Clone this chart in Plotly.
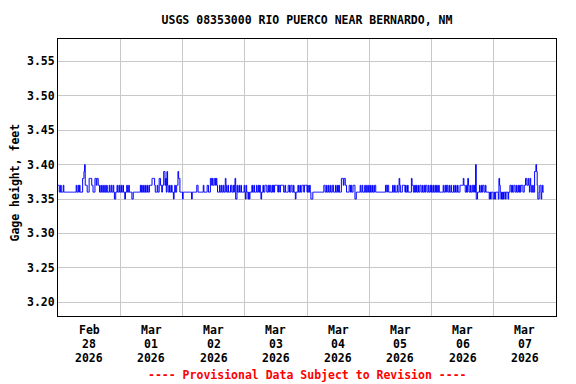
import plotly.graph_objects as go
import pandas as pd

# Gage height codes, one char per 15-minute reading (groups of 8 = 2 hours)
# 5=3.35, 6=3.36, 7=3.37, 8=3.38, 9=3.39, 0=3.40
code_values = {"5": 3.35, "6": 3.36, "7": 3.37, "8": 3.38, "9": 3.39, "0": 3.40}

day_starts = ["2026-02-28", "2026-03-01", "2026-03-02", "2026-03-03",
              "2026-03-04", "2026-03-05", "2026-03-06", "2026-03-07"]

day_codes = [
    "77667666 76666666 66666666 66667667 67666688 90777666 88887766 68878877 66766766 76676667 66766765 56676676",
    "67667665 66766766 66556666 66666667 67667667 66766777 78888766 67668877 67799786 97667667 66567667 79886666",
    "56666666 66666656 66666677 66666666 76666677 66688787 78878766 67667667 66876676 66776676 78557667 66766667",
    "65766565 66676676 66766767 65667667 77667677 66767677 77767767 77776676 66677667 76676656 66766766 77767777",
    "67667655 56666666 66666666 66776676 67667667 76667667 67666888 78877666 67767667 77556666 66766766 67667667",
    "66766766 77666666 66666666 67767766 66667667 66676687 66677776 76676666 68776676 76676677 66766767 76676676",
    "76676676 76676666 66766767 76676676 66766766 76667777 78776676 87667667 76760556 66766767 76676666 65656665",
    "56566665 87656565 66566656 67767667 76676676 76777667 78877876 87667669 90975567 756766",
]

tick_positions = ["2026-02-28 12:00", "2026-03-01 12:00", "2026-03-02 12:00", "2026-03-03 12:00",
                  "2026-03-04 12:00", "2026-03-05 12:00", "2026-03-06 12:00", "2026-03-07 12:00"]
tick_months = ["Feb", "Mar", "Mar", "Mar", "Mar", "Mar", "Mar", "Mar"]
tick_days = ["28", "01", "02", "03", "04", "05", "06", "07"]
tick_years = ["2026"] * 8
grid_positions = ["2026-03-01", "2026-03-02", "2026-03-03", "2026-03-04",
                  "2026-03-05", "2026-03-06", "2026-03-07"]
y_ticks = [3.20, 3.25, 3.30, 3.35, 3.40, 3.45, 3.50, 3.55]

times, values = [], []
for start, codes in zip(day_starts, day_codes):
    t0 = pd.Timestamp(start)
    for j, c in enumerate(codes.replace(" ", "")):
        times.append(t0 + pd.Timedelta(minutes=15 * j))
        values.append(code_values[c])

FONT = "DejaVu Sans Mono"
# page body adds an 8px margin; the figure is sized so the picture matches 576x384
W, H = 568, 376
PL, PT, PR, PB = 50, 31, 20, 68   # plot area in figure pixels
PW, PH = W - PL - PR, H - PT - PB


def py(ypix):  # reference pixel row -> paper y
    return (PT + PH - (ypix - 8)) / PH


def px(xpix):  # reference pixel column -> paper x
    return ((xpix - 8) - PL) / PW


fig = go.Figure()
fig.add_trace(go.Scatter(x=times, y=values, mode="lines", line=dict(color="#0000FF", width=1, shape="hv"),
                         hoverinfo="skip"))

fig.update_layout(
    width=W, height=H,
    margin=dict(l=PL, r=PR, t=PT, b=PB),
    paper_bgcolor="white", plot_bgcolor="white",
    showlegend=False,
    font=dict(family=FONT, size=11.5, color="black", weight="bold"),
    title=dict(text="USGS 08353000 RIO PUERCO NEAR BERNARDO, NM", xref="paper", x=0.5, xanchor="center",
               yref="container", y=1 - 12 / H, yanchor="middle",
               font=dict(family=FONT, size=11.5, color="black", weight="bold")),
)
fig.update_xaxes(
    range=["2026-02-28 00:00", "2026-03-08 00:00"],
    tickmode="array", tickvals=tick_positions, showticklabels=False,
    showgrid=False, ticks="", showline=True, linecolor="black", linewidth=1, mirror=True,
    zeroline=False,
    minor=dict(tickmode="array", tickvals=grid_positions, showgrid=True, gridcolor="#C8C8C8", gridwidth=1, ticks=""),
)
fig.update_yaxes(
    range=[3.18, 3.5826], tickmode="array", tickvals=y_ticks, tickformat=".2f",
    showgrid=True, gridcolor="#C8C8C8", gridwidth=1, ticks="",
    showline=True, linecolor="black", linewidth=1, mirror=True, zeroline=False,
)
for pos, mo, dy, yr in zip(tick_positions, tick_months, tick_days, tick_years):
    for txt, row in ((mo, 330), (dy, 344), (yr, 357.5)):
        fig.add_annotation(text=txt, xref="x", yref="paper", x=pos, y=py(row), showarrow=False,
                           xanchor="center", yanchor="middle",
                           font=dict(family=FONT, size=11.5, color="black", weight="bold"))
fig.add_annotation(text="Gage height, feet", xref="paper", yref="paper", x=px(14.5), y=py(183),
                   textangle=-90, showarrow=False, xanchor="center", yanchor="middle",
                   font=dict(family=FONT, size=11.5, color="black", weight="bold"))
fig.add_annotation(text="---- Provisional Data Subject to Revision ----", xref="paper", yref="paper",
                   x=0.5, y=py(375), showarrow=False, xanchor="center", yanchor="middle",
                   font=dict(family=FONT, size=11.5, color="#FF0000", weight="bold"))

fig.write_html("out.html")
